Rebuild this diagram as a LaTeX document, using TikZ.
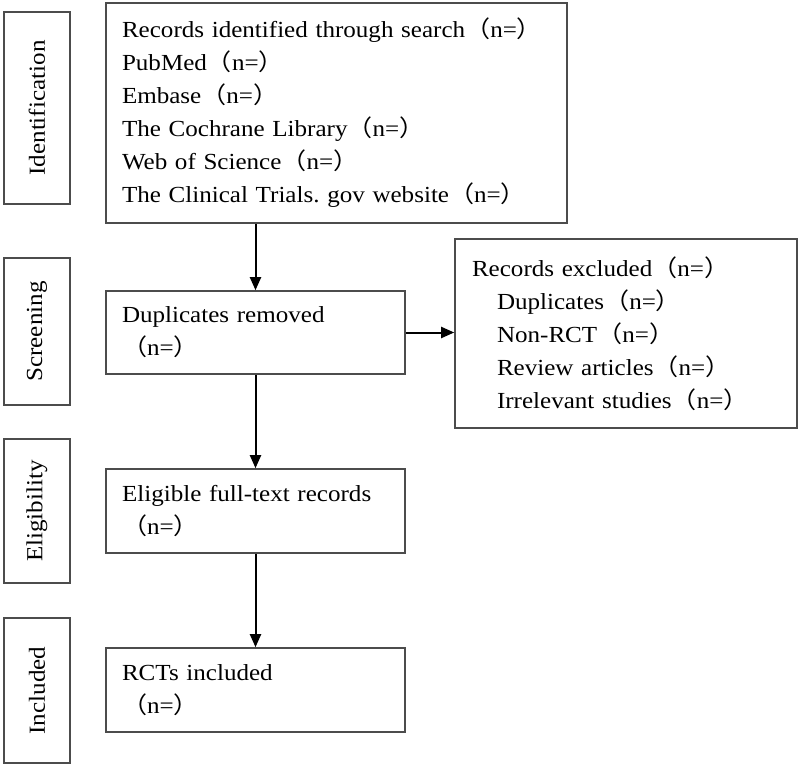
\documentclass[tikz,border=0pt]{standalone}
\usepackage{fontspec}
\setmainfont[FakeStretch=1.09]{Liberation Serif}
\newfontfamily\cjkfont[FakeStretch=1.09]{Noto Sans CJK SC}
\usetikzlibrary{arrows.meta}
\newcommand{\fwl}{{\cjkfont （}}
\newcommand{\fwr}{{\cjkfont ）}}
\newcommand{\nn}{\fwl n=\fwr}
\frenchspacing
\begin{document}
\begin{tikzpicture}[x=1pt,y=-1pt,
  every node/.style={font=\fontsize{23}{33}\selectfont},
  box/.style={draw=black!70,line width=1.6pt,rectangle,align=left,inner ysep=0pt},
  side/.style={draw=black!70,line width=1.6pt,rectangle,inner sep=0pt,minimum width=66pt},
  arr/.style={line width=2pt,-{Triangle[length=13pt,width=11pt]}}]
\useasboundingbox (0,0) rectangle (800,767);
% side labels
\node[side,minimum height=192pt] (sid) at (37,108) {\rotatebox{90}{Identification}};
\node[side,minimum height=147pt] (sscr) at (37,331.5) {\rotatebox{90}{Screening}};
\node[side,minimum height=144pt] (selig) at (37,511) {\rotatebox{90}{Eligibility}};
\node[side,minimum height=145pt] (sinc) at (37,690.5) {\rotatebox{90}{Included}};
% main boxes
\node[box,minimum width=461pt,minimum height=220pt,inner xsep=16pt,text width=429pt] (ident) at (336.5,113)
 {Records identified through search\nn\\
  PubMed\nn\\
  Embase\nn\\
  The Cochrane Library\nn\\
  Web of Science\nn\\
  The Clinical Trials. gov website\nn};
\node[box,minimum width=299pt,minimum height=83pt,inner xsep=16pt,text width=267pt] (dup) at (255.5,332.5)
 {Duplicates removed\\ \nn};
\node[box,minimum width=299pt,minimum height=84pt,inner xsep=16pt,text width=267pt] (elig) at (255.5,511)
 {Eligible full-text records\\ \nn};
\node[box,minimum width=299pt,minimum height=84pt,inner xsep=16pt,text width=267pt] (rct) at (255.5,690)
 {RCTs included\\ \nn};
\node[box,minimum width=342pt,minimum height=189pt,inner xsep=17pt,text width=308pt] (excl) at (626,333.5)
 {Records excluded\nn\\
  \hspace*{25pt}Duplicates\nn\\
  \hspace*{25pt}Non-RCT\nn\\
  \hspace*{25pt}Review articles\nn\\
  \hspace*{25pt}Irrelevant studies\nn};
% connectors
\draw[arr] (ident.south -| dup.north) -- (dup.north);
\draw[arr] (dup.south) -- (elig.north);
\draw[arr] (elig.south) -- (rct.north);
\draw[arr] (dup.east) -- (excl.west |- dup.east);
\end{tikzpicture}
\end{document}
